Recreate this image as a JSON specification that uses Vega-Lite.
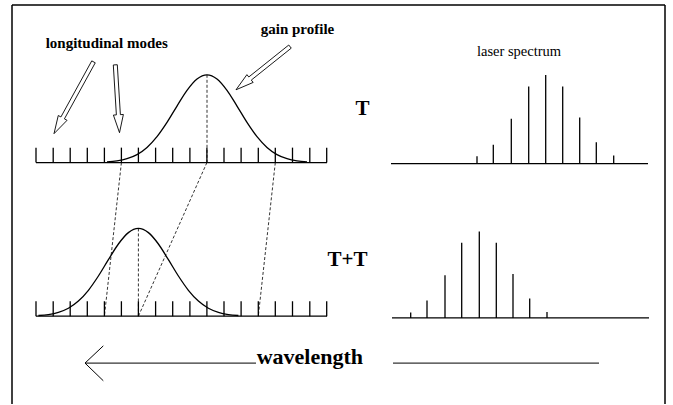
{
  "$schema": "https://vega.github.io/schema/vega-lite/v6.json",
  "autosize": {"type": "fit", "contains": "padding"},
  "width": 673,
  "height": 405,
  "padding": 0,
  "background": "white",
  "config": {"view": {"stroke": null}},
  "datasets": {
    "frame": [
      {"x": 12, "y": 5, "x2": 665, "y2": 5},
      {"x": 12, "y": 5, "x2": 12, "y2": 405},
      {"x": 665, "y": 5, "x2": 665, "y2": 405}
    ],
    "solid": [
      {"x": 36, "y": 163, "x2": 327, "y2": 163},
      {"x": 36, "y": 317, "x2": 327, "y2": 317},
      {"x": 36, "y": 148, "x2": 36, "y2": 163},
      {"x": 53.2, "y": 148, "x2": 53.2, "y2": 163},
      {"x": 70.2, "y": 148, "x2": 70.2, "y2": 163},
      {"x": 87.3, "y": 148, "x2": 87.3, "y2": 163},
      {"x": 104.4, "y": 148, "x2": 104.4, "y2": 163},
      {"x": 121.4, "y": 148, "x2": 121.4, "y2": 163},
      {"x": 138.4, "y": 148, "x2": 138.4, "y2": 163},
      {"x": 155.6, "y": 148, "x2": 155.6, "y2": 163},
      {"x": 172.7, "y": 148, "x2": 172.7, "y2": 163},
      {"x": 189.9, "y": 148, "x2": 189.9, "y2": 163},
      {"x": 206.9, "y": 148, "x2": 206.9, "y2": 163},
      {"x": 224, "y": 148, "x2": 224, "y2": 163},
      {"x": 241.1, "y": 148, "x2": 241.1, "y2": 163},
      {"x": 258.3, "y": 148, "x2": 258.3, "y2": 163},
      {"x": 275.3, "y": 148, "x2": 275.3, "y2": 163},
      {"x": 292.5, "y": 148, "x2": 292.5, "y2": 163},
      {"x": 309.8, "y": 148, "x2": 309.8, "y2": 163},
      {"x": 326.7, "y": 148, "x2": 326.7, "y2": 163},
      {"x": 36, "y": 302, "x2": 36, "y2": 317},
      {"x": 53.2, "y": 302, "x2": 53.2, "y2": 317},
      {"x": 70.2, "y": 302, "x2": 70.2, "y2": 317},
      {"x": 87.3, "y": 302, "x2": 87.3, "y2": 317},
      {"x": 104.4, "y": 302, "x2": 104.4, "y2": 317},
      {"x": 121.4, "y": 302, "x2": 121.4, "y2": 317},
      {"x": 138.4, "y": 302, "x2": 138.4, "y2": 317},
      {"x": 155.6, "y": 302, "x2": 155.6, "y2": 317},
      {"x": 172.7, "y": 302, "x2": 172.7, "y2": 317},
      {"x": 189.9, "y": 302, "x2": 189.9, "y2": 317},
      {"x": 206.9, "y": 302, "x2": 206.9, "y2": 317},
      {"x": 224, "y": 302, "x2": 224, "y2": 317},
      {"x": 241.1, "y": 302, "x2": 241.1, "y2": 317},
      {"x": 258.3, "y": 302, "x2": 258.3, "y2": 317},
      {"x": 275.3, "y": 302, "x2": 275.3, "y2": 317},
      {"x": 292.5, "y": 302, "x2": 292.5, "y2": 317},
      {"x": 309.8, "y": 302, "x2": 309.8, "y2": 317},
      {"x": 326.7, "y": 302, "x2": 326.7, "y2": 317},
      {"x": 391, "y": 164, "x2": 648, "y2": 164},
      {"x": 477, "y": 156.7, "x2": 477, "y2": 164},
      {"x": 493.3, "y": 145, "x2": 493.3, "y2": 164},
      {"x": 511.3, "y": 119, "x2": 511.3, "y2": 164},
      {"x": 528.7, "y": 86.7, "x2": 528.7, "y2": 164},
      {"x": 545.7, "y": 75.3, "x2": 545.7, "y2": 164},
      {"x": 562.7, "y": 86.7, "x2": 562.7, "y2": 164},
      {"x": 579.7, "y": 117.7, "x2": 579.7, "y2": 164},
      {"x": 596.3, "y": 142.7, "x2": 596.3, "y2": 164},
      {"x": 613.7, "y": 156, "x2": 613.7, "y2": 164},
      {"x": 392, "y": 318.7, "x2": 649, "y2": 318.7},
      {"x": 410.7, "y": 313.3, "x2": 410.7, "y2": 318.7},
      {"x": 427, "y": 301.3, "x2": 427, "y2": 318.7},
      {"x": 445, "y": 276, "x2": 445, "y2": 318.7},
      {"x": 461.7, "y": 243.3, "x2": 461.7, "y2": 318.7},
      {"x": 479.3, "y": 232, "x2": 479.3, "y2": 318.7},
      {"x": 496.3, "y": 243.3, "x2": 496.3, "y2": 318.7},
      {"x": 513, "y": 274.7, "x2": 513, "y2": 318.7},
      {"x": 529.7, "y": 299.3, "x2": 529.7, "y2": 318.7},
      {"x": 547, "y": 312.7, "x2": 547, "y2": 318.7}
    ],
    "thin": [
      {"x": 85, "y": 364, "x2": 256, "y2": 364},
      {"x": 393, "y": 364, "x2": 599, "y2": 364},
      {"x": 85, "y": 364, "x2": 103.3, "y2": 346.7},
      {"x": 85, "y": 364, "x2": 103.3, "y2": 381.7}
    ],
    "dashed": [
      {"x": 121.4, "y": 163, "x2": 104.4, "y2": 317},
      {"x": 206.9, "y": 163, "x2": 138.4, "y2": 317},
      {"x": 275.3, "y": 163, "x2": 258.3, "y2": 317},
      {"x": 207, "y": 75, "x2": 207, "y2": 163},
      {"x": 138.4, "y": 229, "x2": 138.4, "y2": 317}
    ],
    "curves": [
      {"c": "top", "o": 0, "x": 107, "y": 162.3},
      {"c": "top", "o": 1, "x": 117, "y": 161.3},
      {"c": "top", "o": 2, "x": 127, "y": 159.1},
      {"c": "top", "o": 3, "x": 137, "y": 155.0},
      {"c": "top", "o": 4, "x": 147, "y": 147.8},
      {"c": "top", "o": 5, "x": 157, "y": 137.0},
      {"c": "top", "o": 6, "x": 167, "y": 122.7},
      {"c": "top", "o": 7, "x": 177, "y": 106.3},
      {"c": "top", "o": 8, "x": 187, "y": 90.6},
      {"c": "top", "o": 9, "x": 197, "y": 79.2},
      {"c": "top", "o": 10, "x": 207, "y": 75.0},
      {"c": "top", "o": 11, "x": 217, "y": 79.2},
      {"c": "top", "o": 12, "x": 227, "y": 90.6},
      {"c": "top", "o": 13, "x": 237, "y": 106.3},
      {"c": "top", "o": 14, "x": 247, "y": 122.7},
      {"c": "top", "o": 15, "x": 257, "y": 137.0},
      {"c": "top", "o": 16, "x": 267, "y": 147.8},
      {"c": "top", "o": 17, "x": 277, "y": 155.0},
      {"c": "top", "o": 18, "x": 287, "y": 159.1},
      {"c": "top", "o": 19, "x": 297, "y": 161.3},
      {"c": "top", "o": 20, "x": 307, "y": 162.3},
      {"c": "bottom", "o": 0, "x": 38.4, "y": 316.3},
      {"c": "bottom", "o": 1, "x": 48.4, "y": 315.3},
      {"c": "bottom", "o": 2, "x": 58.4, "y": 313.1},
      {"c": "bottom", "o": 3, "x": 68.4, "y": 309.0},
      {"c": "bottom", "o": 4, "x": 78.4, "y": 301.8},
      {"c": "bottom", "o": 5, "x": 88.4, "y": 291.0},
      {"c": "bottom", "o": 6, "x": 98.4, "y": 276.7},
      {"c": "bottom", "o": 7, "x": 108.4, "y": 260.3},
      {"c": "bottom", "o": 8, "x": 118.4, "y": 244.6},
      {"c": "bottom", "o": 9, "x": 128.4, "y": 233.2},
      {"c": "bottom", "o": 10, "x": 138.4, "y": 229.0},
      {"c": "bottom", "o": 11, "x": 148.4, "y": 233.2},
      {"c": "bottom", "o": 12, "x": 158.4, "y": 244.6},
      {"c": "bottom", "o": 13, "x": 168.4, "y": 260.3},
      {"c": "bottom", "o": 14, "x": 178.4, "y": 276.7},
      {"c": "bottom", "o": 15, "x": 188.4, "y": 291.0},
      {"c": "bottom", "o": 16, "x": 198.4, "y": 301.8},
      {"c": "bottom", "o": 17, "x": 208.4, "y": 309.0},
      {"c": "bottom", "o": 18, "x": 218.4, "y": 313.1},
      {"c": "bottom", "o": 19, "x": 228.4, "y": 315.3},
      {"c": "bottom", "o": 20, "x": 238.4, "y": 316.3}
    ],
    "arrows": [
      {"a": "a1", "o": 0, "x": 95.25, "y": 62.96},
      {"a": "a1", "o": 1, "x": 64.41, "y": 119.17},
      {"a": "a1", "o": 2, "x": 67.05, "y": 120.62},
      {"a": "a1", "o": 3, "x": 54, "y": 134},
      {"a": "a1", "o": 4, "x": 58.27, "y": 115.8},
      {"a": "a1", "o": 5, "x": 60.91, "y": 117.25},
      {"a": "a1", "o": 6, "x": 91.75, "y": 61.04},
      {"a": "a1", "o": 7, "x": 95.25, "y": 62.96},
      {"a": "a2", "o": 0, "x": 117.3, "y": 64.88},
      {"a": "a2", "o": 1, "x": 120.39, "y": 114.92},
      {"a": "a2", "o": 2, "x": 123.38, "y": 114.73},
      {"a": "a2", "o": 3, "x": 119.5, "y": 133},
      {"a": "a2", "o": 4, "x": 113.4, "y": 115.35},
      {"a": "a2", "o": 5, "x": 116.39, "y": 115.16},
      {"a": "a2", "o": 6, "x": 113.3, "y": 65.12},
      {"a": "a2", "o": 7, "x": 117.3, "y": 64.88},
      {"a": "a3", "o": 0, "x": 291.25, "y": 48.26},
      {"a": "a3", "o": 1, "x": 251.29, "y": 80.29},
      {"a": "a3", "o": 2, "x": 253.17, "y": 82.63},
      {"a": "a3", "o": 3, "x": 236, "y": 90},
      {"a": "a3", "o": 4, "x": 246.91, "y": 74.83},
      {"a": "a3", "o": 5, "x": 248.79, "y": 77.17},
      {"a": "a3", "o": 6, "x": 288.75, "y": 45.14},
      {"a": "a3", "o": 7, "x": 291.25, "y": 48.26}
    ],
    "labels": [
      {"text": "longitudinal modes", "x": 106.7, "y": 48.5},
      {"text": "gain profile", "x": 297.5, "y": 34.5},
      {"text": "laser spectrum", "x": 519, "y": 56},
      {"text": "T", "x": 362.5, "y": 115},
      {"text": "T+T", "x": 347.5, "y": 267},
      {"text": "wavelength", "x": 256.7, "y": 365}
    ]
  },
  "encoding": {
    "x": {"field": "x", "type": "quantitative", "scale": {"domain": [0, 673], "nice": false, "zero": false}, "axis": null},
    "y": {"field": "y", "type": "quantitative", "scale": {"domain": [0, 405], "nice": false, "zero": false, "reverse": true}, "axis": null}
  },
  "layer": [
    {
      "data": {"name": "frame"},
      "mark": {"type": "rule", "color": "#000", "strokeWidth": 1.5},
      "encoding": {"x2": {"field": "x2"}, "y2": {"field": "y2"}}
    },
    {
      "data": {"name": "solid"},
      "mark": {"type": "rule", "color": "#000", "strokeWidth": 1.3},
      "encoding": {"x2": {"field": "x2"}, "y2": {"field": "y2"}}
    },
    {
      "data": {"name": "thin"},
      "mark": {"type": "rule", "color": "#000", "strokeWidth": 1},
      "encoding": {"x2": {"field": "x2"}, "y2": {"field": "y2"}}
    },
    {
      "data": {"name": "dashed"},
      "mark": {"type": "rule", "color": "#000", "strokeWidth": 0.8, "strokeDash": [3, 2]},
      "encoding": {"x2": {"field": "x2"}, "y2": {"field": "y2"}}
    },
    {
      "data": {"name": "curves"},
      "mark": {"type": "line", "color": "#000", "strokeWidth": 1.3, "interpolate": "monotone"},
      "encoding": {"detail": {"field": "c"}, "order": {"field": "o", "type": "quantitative"}}
    },
    {
      "data": {"name": "arrows"},
      "mark": {"type": "line", "color": "#000", "strokeWidth": 0.9},
      "encoding": {"detail": {"field": "a"}, "order": {"field": "o", "type": "quantitative"}}
    },
    {
      "data": {"name": "labels"},
      "transform": [{"filter": {"field": "text", "oneOf": ["longitudinal modes", "gain profile"]}}],
      "mark": {"type": "text", "font": "Liberation Serif", "fontWeight": "bold", "fontSize": 15, "align": "center", "baseline": "alphabetic", "color": "#000"},
      "encoding": {"text": {"field": "text"}}
    },
    {
      "data": {"name": "labels"},
      "transform": [{"filter": {"field": "text", "equal": "laser spectrum"}}],
      "mark": {"type": "text", "font": "Liberation Serif", "fontSize": 14.5, "align": "center", "baseline": "alphabetic", "color": "#000"},
      "encoding": {"text": {"field": "text"}}
    },
    {
      "data": {"name": "labels"},
      "transform": [{"filter": {"field": "text", "oneOf": ["T", "T+T"]}}],
      "mark": {"type": "text", "font": "Liberation Serif", "fontWeight": "bold", "fontSize": 21, "align": "center", "baseline": "alphabetic", "color": "#000"},
      "encoding": {"text": {"field": "text"}}
    },
    {
      "data": {"name": "labels"},
      "transform": [{"filter": {"field": "text", "equal": "wavelength"}}],
      "mark": {"type": "text", "font": "Liberation Serif", "fontWeight": "bold", "fontSize": 22, "align": "left", "baseline": "alphabetic", "color": "#000"},
      "encoding": {"text": {"field": "text"}}
    }
  ]
}
